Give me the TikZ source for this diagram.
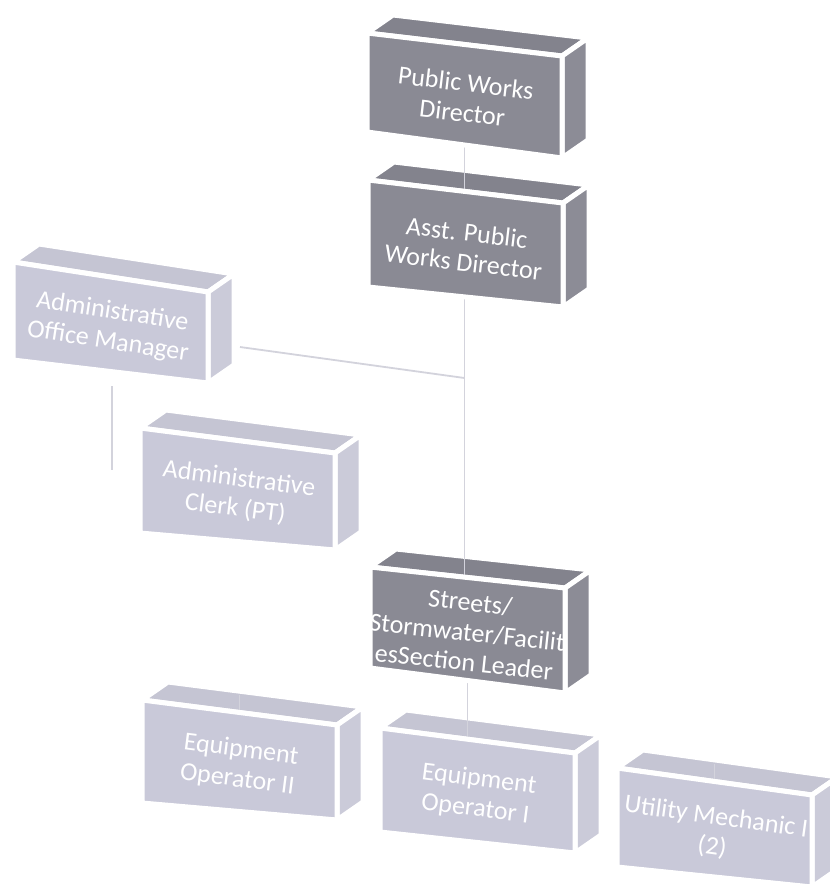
\documentclass[tikz,border=0pt]{standalone}
\usepackage{fontspec}
\setmainfont{Carlito}
\usetikzlibrary{calc}

\pgfdeclarelayer{tops}
\pgfdeclarelayer{links}
\pgfsetlayers{tops,links,main}

% box tones
\definecolor{darkfront}{HTML}{8A8A94}
\definecolor{darktop}{HTML}{83838D}
\definecolor{darkside}{HTML}{8C8C96}
\definecolor{lightfront}{HTML}{C9C9D9}
\definecolor{lighttop}{HTML}{C5C5D3}
\definecolor{lightside}{HTML}{CBCBD9}
\definecolor{linkgray}{HTML}{D3D3DC}

\tikzset{
  face/.style={draw=white, line width=5pt, line join=round},
  boxtext/.style={text=white, align=center, inner sep=0pt,
    font=\fontsize{26}{30}\selectfont},
  link/.style={draw=linkgray, line width=1.8pt},
}

% depth of every box (to the back, up and right)
\def\boxdx{26}
\def\boxdy{-18}

% \orgbox{name}{x}{y}{drop of top edge}{left height}{right height}{tone}{text}
\newcommand\orgbox[8]{%
  \coordinate (#1-tl) at (#2,#3);
  \coordinate (#1-tr) at ($(#1-tl)+(195,#4)$);
  \coordinate (#1-bl) at ($(#1-tl)+(0,#5)$);
  \coordinate (#1-br) at ($(#1-tr)+(0,#6)$);
  \coordinate (#1-ktl) at ($(#1-tl)+(\boxdx,\boxdy)$);
  \coordinate (#1-ktr) at ($(#1-tr)+(\boxdx,\boxdy)$);
  \coordinate (#1-kbr) at ($(#1-br)+(\boxdx,\boxdy)$);
  \coordinate (#1-bot) at ($(#1-bl)!.5!(#1-br)$);
  \coordinate (#1-tf) at ($(#1-tl)!.5!(#1-tr)$);
  \coordinate (#1-tb) at ($(#1-ktl)!.5!(#1-ktr)$);
  \begin{pgfonlayer}{tops}
    \path[face, fill=#7top] (#1-tl) -- (#1-ktl) -- (#1-ktr) -- (#1-tr) -- cycle;
  \end{pgfonlayer}
  \path[face, fill=#7side] (#1-tr) -- (#1-ktr) -- (#1-kbr) -- (#1-br) -- cycle;
  \path[face, fill=#7front] (#1-tl) -- (#1-tr) -- (#1-br) -- (#1-bl) -- cycle;
  \pgfmathsetmacro\boxang{-atan(#4/195)}
  \begin{scope}
    \clip (#1-tl) -- (#1-tr) -- (#1-br) -- (#1-bl) -- cycle;
    \node[boxtext, rotate=\boxang, yshift=-3pt] (#1) at
      ($($(#1-tl)!.5!(#1-br)$)!.5!($(#1-tr)!.5!(#1-bl)$)$) {#8};
  \end{scope}
}

\begin{document}
\begin{tikzpicture}[x=1pt, y=-1pt]
  \useasboundingbox (0,0) rectangle (830,892);

  \orgbox{pwd}{367}{33}{23}{99}{102}{dark}{Public Works\\Director}
  \orgbox{asst}{368}{180}{23}{107}{104}{dark}{Asst. Public\\Works Director}
  \orgbox{aom}{13}{262}{30}{98}{91}{light}{Administrative\\Office Manager}
  \orgbox{clerk}{140}{428}{25}{105}{97}{light}{Administrative\\Clerk (PT)}
  \orgbox{streets}{370}{567}{21}{101}{105}{dark}{Streets/\\Stormwater/Facilit\\esSection Leader}
  \orgbox{eoii}{142}{700}{25}{103}{95}{light}{Equipment\\Operator II}
  \orgbox{eoi}{380}{728}{25}{104}{100}{light}{Equipment\\Operator I}
  \orgbox{um}{617}{768}{27}{99}{92}{light}{Utility Mechanic I\\(2)}

  % free ends of the connectors
  \coordinate (aomjoin) at (240,347);
  \coordinate (trunkjoin) at (466,378);
  \coordinate (clerkfeed) at (112,386);
  \coordinate (clerkend) at (112,470);

  \begin{pgfonlayer}{links}
    \draw[link] (pwd-bot) -- (pwd-bot |- streets-tf);
    \draw[link] (aomjoin) -- (pwd-bot |- trunkjoin);
    \draw[link] (clerkfeed) -- (clerkend);
    \draw[link] (streets-bot) -- (streets-bot |- eoi-tf);
    \draw[link] (eoii-tf) -- (eoii-tf |- eoii-tb);
    \draw[link] (um-tf) -- (um-tf |- um-tb);
  \end{pgfonlayer}
\end{tikzpicture}
\end{document}
